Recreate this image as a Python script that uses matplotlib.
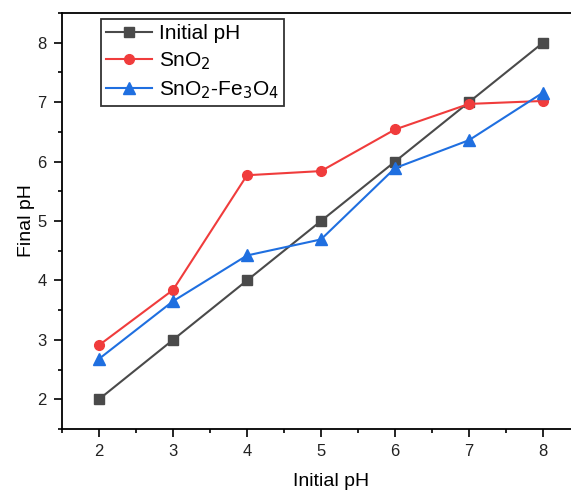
import numpy as np
from matplotlib import pyplot as plt
from matplotlib.ticker import MultipleLocator

plt.rcParams['font.family'] = ['Liberation Sans', 'DejaVu Sans']

initial_ph = [2, 3, 4, 5, 6, 7, 8]
final_initial = [2, 3, 4, 5, 6, 7, 8]
final_sno2 = [2.91, 3.84, 5.77, 5.84, 6.54, 6.97, 7.02]
final_sno2_fe = [2.68, 3.65, 4.42, 4.69, 5.89, 6.36, 7.16]

fig = plt.figure(figsize=(5.71, 4.94), dpi=100)
# right edge of the frame is cut off in the original
ax = fig.add_axes([62/571, (494-429)/494, (600-62)/571, (429-13)/494])

ax.plot(initial_ph, final_initial, color='#4a4a4a', marker='s', markersize=7,
        linewidth=1.5, label='Initial pH')
ax.plot(initial_ph, final_sno2, color='#f03c3c', marker='o', markersize=7,
        linewidth=1.5, label='SnO$_2$')
ax.plot(initial_ph, final_sno2_fe, color='#1f6fe0', marker='^', markersize=8,
        linewidth=1.5, label='SnO$_2$-Fe$_3$O$_4$')

ax.set_xlim(1.5, 1.5 + 7 * (600 - 62) / (580 - 62))
ax.set_ylim(1.5, 8.5)
ax.xaxis.set_major_locator(MultipleLocator(1))
ax.xaxis.set_minor_locator(MultipleLocator(0.5))
ax.yaxis.set_major_locator(MultipleLocator(1))
ax.yaxis.set_minor_locator(MultipleLocator(0.5))
ax.tick_params(which='both', direction='out', labelsize=12, width=1.2,
               labelcolor='#222222')
ax.tick_params(which='major', length=6, pad=5)
ax.tick_params(which='minor', length=3)
for s in ax.spines.values():
    s.set_linewidth(1.3)
ax.spines['right'].set_visible(False)

ax.set_xlabel('Initial pH', fontsize=14, labelpad=10)
ax.set_ylabel('Final pH', fontsize=14, labelpad=2)

leg = ax.legend(loc='upper left', bbox_to_anchor=(0.073, 0.985), fontsize=15,
                frameon=True, fancybox=False, edgecolor='black',
                handlelength=2.2, handletextpad=0.3, borderpad=0.25,
                labelspacing=0.35, borderaxespad=0)
leg.get_frame().set_linewidth(1.3)

plt.savefig('out.png', dpi=100)
